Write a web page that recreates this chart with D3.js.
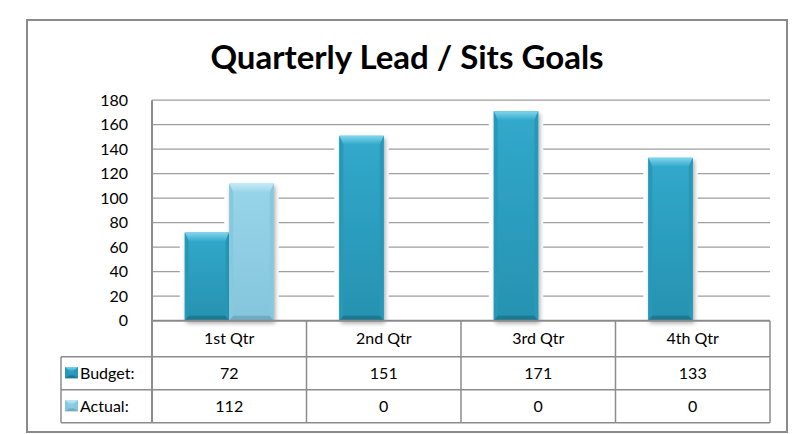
<!DOCTYPE html>
<html>
<head>
<meta charset="utf-8">
<script src="https://cdn.jsdelivr.net/npm/d3@7"></script>
<style>
  html, body { margin: 0; padding: 0; background: #fff; }
  svg { display: block; }
  text { font-family: Lato, "Open Sans", sans-serif; fill: #000; }
</style>
</head>
<body>
<svg id="chart" width="793" height="434"></svg>
<script>
// ---- data ----
const categories = ["1st Qtr", "2nd Qtr", "3rd Qtr", "4th Qtr"];
const seriesNames = ["Budget", "Actual"];
const budget = [72, 151, 171, 133];
const actual = [112, 0, 0, 0];
const yTicks = [0, 20, 40, 60, 80, 100, 120, 140, 160, 180];
const title = "Quarterly Lead / Sits Goals";

// ---- layout ----
const W = 793, H = 434;
const frame = {x: 27, y: 20, w: 760, h: 412};
const plot = {left: 152, right: 770, top: 100.2, bottom: 320.7};
const rowH = [36, 33, 33];
const legendLeft = 61;

const colors = {
  Budget: {main0: "#31a9cb", main1: "#2792b1", top: "#82d5ec", side: "#2898b8", bottom: "#1d7892"},
  Actual: {main0: "#97d5ea", main1: "#85c5dc", top: "#c4eaf6", side: "#88c8de", bottom: "#6eacc3"}
};
const gridColor = "#9e9e9e";
const lineColor = "#8c8c8c";

const svg = d3.select("#chart");
const defs = svg.append("defs");

seriesNames.forEach(s => {
  const g = defs.append("linearGradient").attr("id", "grad-" + s)
    .attr("x1", 0).attr("y1", 0).attr("x2", 0).attr("y2", 1);
  g.append("stop").attr("offset", "0%").attr("stop-color", colors[s].main0);
  g.append("stop").attr("offset", "100%").attr("stop-color", colors[s].main1);
  const t = defs.append("linearGradient").attr("id", "top-" + s)
    .attr("x1", 0).attr("y1", 0).attr("x2", 0).attr("y2", 1);
  t.append("stop").attr("offset", "0%").attr("stop-color", colors[s].top);
  t.append("stop").attr("offset", "100%").attr("stop-color", colors[s].main0);
});
const f = defs.append("filter").attr("id", "shadow")
  .attr("x", "-20%").attr("y", "-10%").attr("width", "150%").attr("height", "130%");
f.append("feDropShadow").attr("dx", 1.5).attr("dy", 2.5).attr("stdDeviation", 2)
  .attr("flood-color", "#000").attr("flood-opacity", 0.35);

// outer frame
svg.append("rect").attr("x", frame.x).attr("y", frame.y)
  .attr("width", frame.w).attr("height", frame.h)
  .attr("fill", "#fff").attr("stroke", "#8a8a8a").attr("stroke-width", 2);

// title
svg.append("text").attr("x", frame.x + frame.w / 2).attr("y", 69)
  .attr("text-anchor", "middle").attr("font-weight", "bold")
  .attr("font-size", 33).text(title);

// scales
const y = d3.scaleLinear().domain([0, 180]).range([plot.bottom, plot.top]);
const x = d3.scaleBand().domain(categories).range([plot.left, plot.right]).padding(0);
const xs = d3.scaleBand().domain(seriesNames)
  .range([0, x.bandwidth()]).paddingInner(0).paddingOuter(0.737);

// gridlines
svg.append("g").selectAll("line").data(yTicks.filter(t => t > 0)).join("line")
  .attr("x1", plot.left).attr("x2", plot.right)
  .attr("y1", d => y(d)).attr("y2", d => y(d))
  .attr("stroke", gridColor).attr("stroke-width", 1.3);

// y axis labels
const yAxis = d3.axisLeft(y).tickValues(yTicks).tickSize(0).tickPadding(24);
const ya = svg.append("g").attr("transform", `translate(${plot.left},0)`).call(yAxis);
ya.select(".domain").remove();
ya.selectAll("text").attr("font-size", 16).attr("font-family", "Lato, sans-serif").attr("fill", "#000");

// bars
const data = [];
categories.forEach((c, i) => {
  data.push({cat: c, s: "Budget", v: budget[i]});
  data.push({cat: c, s: "Actual", v: actual[i]});
});

function drawBevelBar(g, x0, y0, w, h, s, useShadow) {
  const c = colors[s];
  const bt = Math.min(9, h / 3), bs = 4, bb = Math.min(5, h / 4);
  const grp = g.append("g");
  const r = grp.append("rect").attr("x", x0).attr("y", y0).attr("width", w).attr("height", h)
    .attr("fill", `url(#grad-${s})`);
  if (useShadow) r.attr("filter", "url(#shadow)");
  // top bevel
  grp.append("polygon").attr("points",
    [[x0, y0], [x0 + w, y0], [x0 + w - bs, y0 + bt], [x0 + bs, y0 + bt]].map(p => p.join(",")).join(" "))
    .attr("fill", `url(#top-${s})`);
  // left bevel
  grp.append("polygon").attr("points",
    [[x0, y0], [x0 + bs, y0 + bt], [x0 + bs, y0 + h - bb], [x0, y0 + h]].map(p => p.join(",")).join(" "))
    .attr("fill", c.side);
  // right bevel
  grp.append("polygon").attr("points",
    [[x0 + w, y0], [x0 + w - bs, y0 + bt], [x0 + w - bs, y0 + h - bb], [x0 + w, y0 + h]].map(p => p.join(",")).join(" "))
    .attr("fill", c.side);
  // bottom bevel
  grp.append("polygon").attr("points",
    [[x0, y0 + h], [x0 + bs, y0 + h - bb], [x0 + w - bs, y0 + h - bb], [x0 + w, y0 + h]].map(p => p.join(",")).join(" "))
    .attr("fill", c.bottom);
}

const barsG = svg.append("g");
// white halo behind bars (breaks gridlines)
barsG.selectAll("rect.halo").data(data.filter(d => d.v > 0)).join("rect")
  .attr("class", "halo")
  .attr("x", d => x(d.cat) + xs(d.s) - 5)
  .attr("y", d => y(d.v) - 1)
  .attr("width", xs.bandwidth() + 10)
  .attr("height", d => y(0) - y(d.v) + 1)
  .attr("fill", "#fff");
data.filter(d => d.v > 0).forEach(d => {
  drawBevelBar(barsG, x(d.cat) + xs(d.s), y(d.v), xs.bandwidth(), y(0) - y(d.v), d.s, true);
});

// data table
const rowsY = [plot.bottom, plot.bottom + rowH[0], plot.bottom + rowH[0] + rowH[1],
  plot.bottom + rowH[0] + rowH[1] + rowH[2]];
const tbl = svg.append("g");
tbl.append("line").attr("x1", plot.left).attr("x2", plot.right)
  .attr("y1", rowsY[0]).attr("y2", rowsY[0]).attr("stroke", "#8a8a8a").attr("stroke-width", 2);
[1, 2, 3].forEach(i => {
  tbl.append("line").attr("x1", legendLeft).attr("x2", plot.right)
    .attr("y1", rowsY[i]).attr("y2", rowsY[i]).attr("stroke", lineColor).attr("stroke-width", 1.5);
});
categories.forEach((c, i) => {
  tbl.append("line").attr("x1", x(c) + x.bandwidth()).attr("x2", x(c) + x.bandwidth())
    .attr("y1", rowsY[0]).attr("y2", rowsY[3]).attr("stroke", lineColor).attr("stroke-width", 1.5);
});
tbl.append("line").attr("x1", legendLeft).attr("x2", legendLeft)
  .attr("y1", rowsY[1]).attr("y2", rowsY[3]).attr("stroke", lineColor).attr("stroke-width", 1.5);
tbl.append("line").attr("x1", plot.left).attr("x2", plot.left)
  .attr("y1", plot.top).attr("y2", rowsY[3]).attr("stroke", lineColor).attr("stroke-width", 2);

// category labels
tbl.selectAll("text.cat").data(categories).join("text").attr("class", "cat")
  .attr("x", d => x(d) + x.bandwidth() / 2).attr("y", (rowsY[0] + rowsY[1]) / 2)
  .attr("dy", "0.35em").attr("text-anchor", "middle").attr("font-size", 16).text(d => d);

// values + legend keys
[budget, actual].forEach((arr, r) => {
  tbl.selectAll("text.v" + r).data(arr).join("text").attr("class", "v" + r)
    .attr("x", (d, i) => x(categories[i]) + x.bandwidth() / 2)
    .attr("y", (rowsY[r + 1] + rowsY[r + 2]) / 2)
    .attr("dy", "0.35em").attr("text-anchor", "middle").attr("font-size", 16).text(d => d);
  const cy = (rowsY[r + 1] + rowsY[r + 2]) / 2;
  const s = seriesNames[r];
  drawBevelBar(tbl, legendLeft + 4, cy - 6, 13, 11, s, false);
  tbl.append("text").attr("x", legendLeft + 19).attr("y", cy).attr("dy", "0.35em")
    .attr("font-size", 16).text(s + ":");
});
</script>
</body>
</html>
